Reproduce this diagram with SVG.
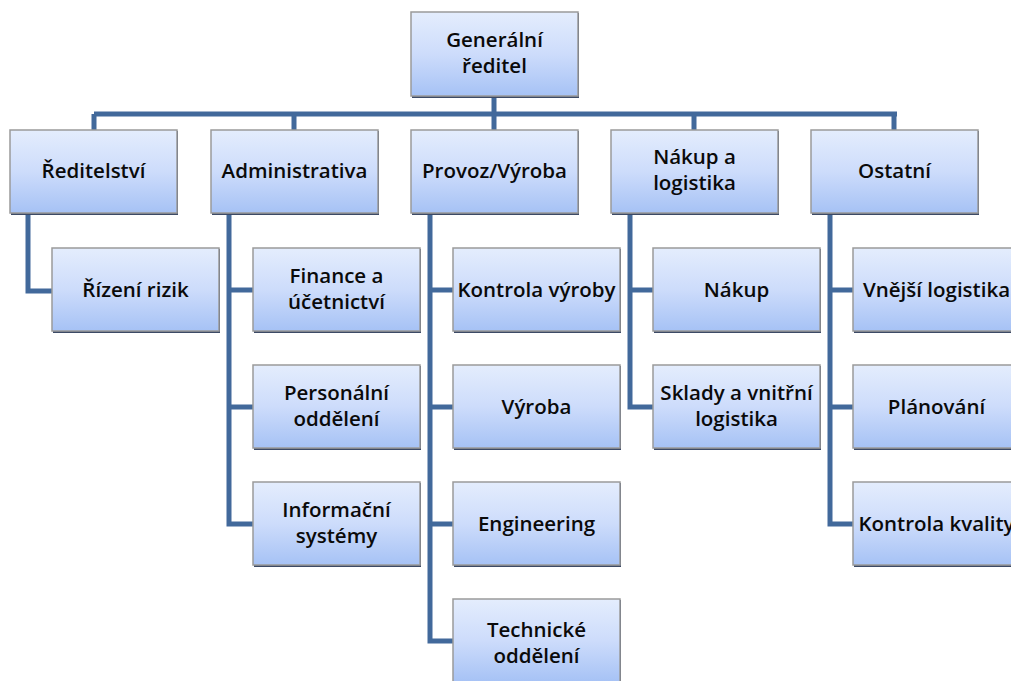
<svg xmlns="http://www.w3.org/2000/svg" width="1011" height="681" viewBox="0 0 1011 681">
<defs>
<linearGradient id="g" x1="0" y1="0" x2="0" y2="1">
<stop offset="0" stop-color="#e4edfd"/>
<stop offset="0.5" stop-color="#cddcfb"/>
<stop offset="1" stop-color="#a6c2f5"/>
</linearGradient>
<style>
.sh{fill:#3c4a66}
.bx{fill:url(#g);stroke:#9a9a9a;stroke-width:1.5}
.t{font-family:"Open Sans","Liberation Sans",sans-serif;font-weight:600;font-size:20.5px;fill:#0a0a0a;text-anchor:middle}
.c{fill:none;stroke:#42699b;stroke-width:5;stroke-linejoin:miter}
</style>
</defs>
<rect width="1011" height="681" fill="#fff"/>
<g id="connectors">
<path class="c" d="M494 96V130M94 114H897M94 114V130M294 114V130M694 114V130M894 114V130"/>
<path class="c" d="M28 213V291H52"/>
<path class="c" d="M229 213V524H253M229 290H253M229 407H253"/>
<path class="c" d="M430 213V641H453M430 290H453M430 407H453M430 524H453"/>
<path class="c" d="M630 213V407H653M630 290H653"/>
<path class="c" d="M830 213V524H853M830 290H853M830 407H853"/>
</g>
<g id="n0"><rect class="sh" x="412" y="13" width="167" height="85"/><rect class="bx" x="411" y="12" width="167" height="84"/><text class="t" x="494.5" y="47">Generální</text><text class="t" x="494.5" y="73">ředitel</text></g>
<g id="n1"><rect class="sh" x="11" y="131" width="167" height="84"/><rect class="bx" x="10" y="130" width="167" height="83"/><text class="t" x="93.5" y="178">Ředitelství</text></g>
<g id="n2"><rect class="sh" x="212" y="131" width="167" height="84"/><rect class="bx" x="211" y="130" width="167" height="83"/><text class="t" x="294.5" y="178">Administrativa</text></g>
<g id="n3"><rect class="sh" x="412" y="131" width="167" height="84"/><rect class="bx" x="411" y="130" width="167" height="83"/><text class="t" x="494.5" y="178">Provoz/Výroba</text></g>
<g id="n4"><rect class="sh" x="612" y="131" width="167" height="84"/><rect class="bx" x="611" y="130" width="167" height="83"/><text class="t" x="694.5" y="164">Nákup a</text><text class="t" x="694.5" y="190">logistika</text></g>
<g id="n5"><rect class="sh" x="812" y="131" width="167" height="84"/><rect class="bx" x="811" y="130" width="167" height="83"/><text class="t" x="894.5" y="178">Ostatní</text></g>
<g id="n6"><rect class="sh" x="53" y="249" width="167" height="84"/><rect class="bx" x="52" y="248" width="167" height="83"/><text class="t" x="135.5" y="297">Řízení rizik</text></g>
<g id="n7"><rect class="sh" x="254" y="249" width="167" height="84"/><rect class="bx" x="253" y="248" width="167" height="83"/><text class="t" x="336.5" y="283">Finance a</text><text class="t" x="336.5" y="309">účetnictví</text></g>
<g id="n8"><rect class="sh" x="254" y="366" width="167" height="84"/><rect class="bx" x="253" y="365" width="167" height="83"/><text class="t" x="336.5" y="400">Personální</text><text class="t" x="336.5" y="426">oddělení</text></g>
<g id="n9"><rect class="sh" x="254" y="483" width="167" height="84"/><rect class="bx" x="253" y="482" width="167" height="83"/><text class="t" x="336.5" y="517">Informační</text><text class="t" x="336.5" y="543">systémy</text></g>
<g id="n10"><rect class="sh" x="454" y="249" width="167" height="84"/><rect class="bx" x="453" y="248" width="167" height="83"/><text class="t" x="536.5" y="297">Kontrola výroby</text></g>
<g id="n11"><rect class="sh" x="454" y="366" width="167" height="84"/><rect class="bx" x="453" y="365" width="167" height="83"/><text class="t" x="536.5" y="414">Výroba</text></g>
<g id="n12"><rect class="sh" x="454" y="483" width="167" height="84"/><rect class="bx" x="453" y="482" width="167" height="83"/><text class="t" x="536.5" y="531">Engineering</text></g>
<g id="n13"><rect class="sh" x="454" y="600" width="167" height="84"/><rect class="bx" x="453" y="599" width="167" height="83"/><text class="t" x="536.5" y="637">Technické</text><text class="t" x="536.5" y="663">oddělení</text></g>
<g id="n14"><rect class="sh" x="654" y="249" width="167" height="84"/><rect class="bx" x="653" y="248" width="167" height="83"/><text class="t" x="736.5" y="297">Nákup</text></g>
<g id="n15"><rect class="sh" x="654" y="366" width="167" height="84"/><rect class="bx" x="653" y="365" width="167" height="83"/><text class="t" x="736.5" y="400">Sklady a vnitřní</text><text class="t" x="736.5" y="426">logistika</text></g>
<g id="n16"><rect class="sh" x="854" y="249" width="167" height="84"/><rect class="bx" x="853" y="248" width="167" height="83"/><text class="t" x="936.5" y="297">Vnější logistika</text></g>
<g id="n17"><rect class="sh" x="854" y="366" width="167" height="84"/><rect class="bx" x="853" y="365" width="167" height="83"/><text class="t" x="936.5" y="414">Plánování</text></g>
<g id="n18"><rect class="sh" x="854" y="483" width="167" height="84"/><rect class="bx" x="853" y="482" width="167" height="83"/><text class="t" x="936.5" y="531">Kontrola kvality</text></g>
</svg>
